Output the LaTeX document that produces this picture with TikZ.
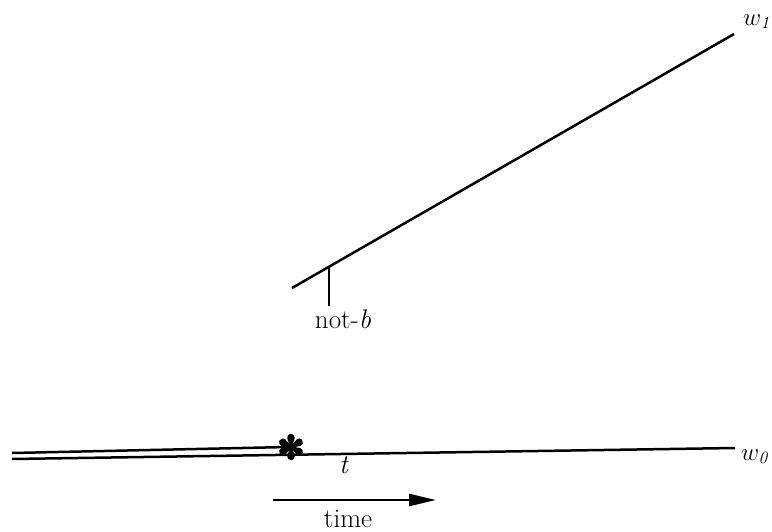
\documentclass[tikz,border=0pt]{standalone}
\usetikzlibrary{arrows.meta}
\begin{document}
\begin{tikzpicture}[x=1pt,y=-1pt,
  ln/.style={line width=2.5pt, line cap=butt},
  lbl/.style={inner sep=0pt, font=\fontsize{27}{30}\selectfont},
  wlbl/.style={inner sep=0pt, font=\fontsize{25}{30}\selectfont}]
\useasboundingbox (0,0) rectangle (772,531);
% upper world
\coordinate (a1) at (292,288);
\coordinate (a2) at (734,34);
\coordinate (tk) at (329,266.7);
\coordinate (tkb) at (329,306);
\draw[ln] (a1) -- (a2);
\draw[ln] (tk) -- (tkb);
\node[lbl, anchor=base] (notb) at (343,328) {not-\textit{b}};
\node[wlbl, anchor=base west] (w1) at (743,25) {$w_{\mathit 1}$};
% lower world
\coordinate (b1) at (12,459);
\coordinate (b2) at (735,448);
\coordinate (c1) at (12,453);
\coordinate (star) at (291,447);
\coordinate (c2) at (288,447);
\draw[ln] (b1) -- (b2);
\draw[ln] (c1) -- (c2);
\foreach \a in {90,150,210,270,330,30}{
  \fill[shift={(star)}, rotate=\a] (0,-0.8) -- (8.84,-3.74) arc (-100:100:3.8) -- (0,0.8) -- cycle;
}
\node[wlbl, anchor=base west] (w0) at (741,460) {$w_{\mathit 0}$};
\node[lbl, anchor=base] (t) at (344,473) {\textit{t}};
% time arrow
\coordinate (d1) at (273,500);
\coordinate (d2) at (436,500);
\draw[ln, -{Triangle[length=27pt,width=12pt]}] (d1) -- (d2);
\node[lbl, anchor=base] (time) at (348,527) {time};
\end{tikzpicture}
\end{document}
